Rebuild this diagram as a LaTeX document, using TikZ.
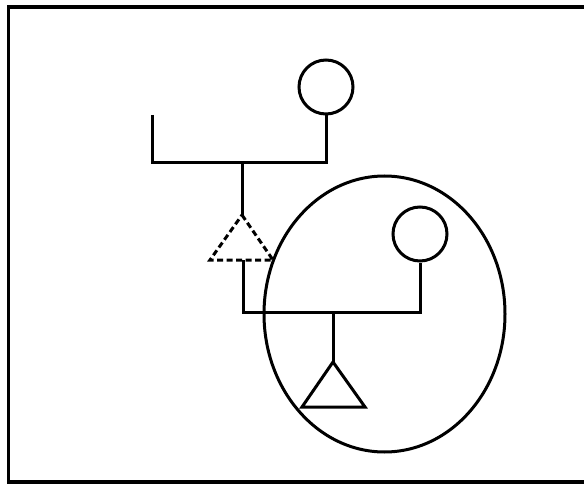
\documentclass[tikz,border=0pt]{standalone}
\usetikzlibrary{shapes.geometric}
\begin{document}
\begin{tikzpicture}[x=1pt,y=-1pt,
  ln/.style={line width=3pt},
  fr/.style={line width=3.2pt},
  dsh/.style={line width=3pt,dash pattern=on 6pt off 3.5pt}]
\useasboundingbox (0,0) rectangle (584,484);
% frame (left, top, bottom)
\coordinate (fa) at (584,7);
\coordinate (fb) at (8.5,7);
\coordinate (fc) at (8.5,482);
\coordinate (fd) at (584,482);
\draw[fr] (fa) -- (fb) -- (fc) -- (fd);
% first generation
\node[draw,ln,circle,minimum size=54pt,inner sep=0pt] (c1) at (326,87) {};
\coordinate (l1) at (152,115);
\coordinate (m1) at (152,163);
\coordinate (r1) at (326,163);
\draw[ln] (l1) -- (m1) -- (r1) -- (c1.south);
\coordinate (s1) at (242,163);
\coordinate (t1a) at (242,215);
\coordinate (t1l) at (210,260);
\coordinate (t1r) at (273,260);
\draw[ln] (s1) -- (t1a);
\draw[dsh] (t1a) -- (t1r) -- (t1l) -- cycle;
% second generation
\node[draw,ln,circle,minimum size=54pt,inner sep=0pt] (c2) at (420,234) {};
\coordinate (b1) at (243,260);
\coordinate (m2) at (243,312);
\coordinate (r2) at (420,312);
\draw[ln] (b1) -- (m2) -- (r2) -- (c2.south);
\coordinate (s2) at (333,312);
\coordinate (t2a) at (333,362);
\coordinate (t2l) at (302,407);
\coordinate (t2r) at (365,407);
\draw[ln] (s2) -- (t2a);
\draw[ln,line join=miter] (t2a) -- (t2r) -- (t2l) -- cycle;
% enclosing ellipse
\node[draw,ln,ellipse,minimum width=241pt,minimum height=276pt,inner sep=0pt] (e) at (384.5,314) {};
\end{tikzpicture}
\end{document}
